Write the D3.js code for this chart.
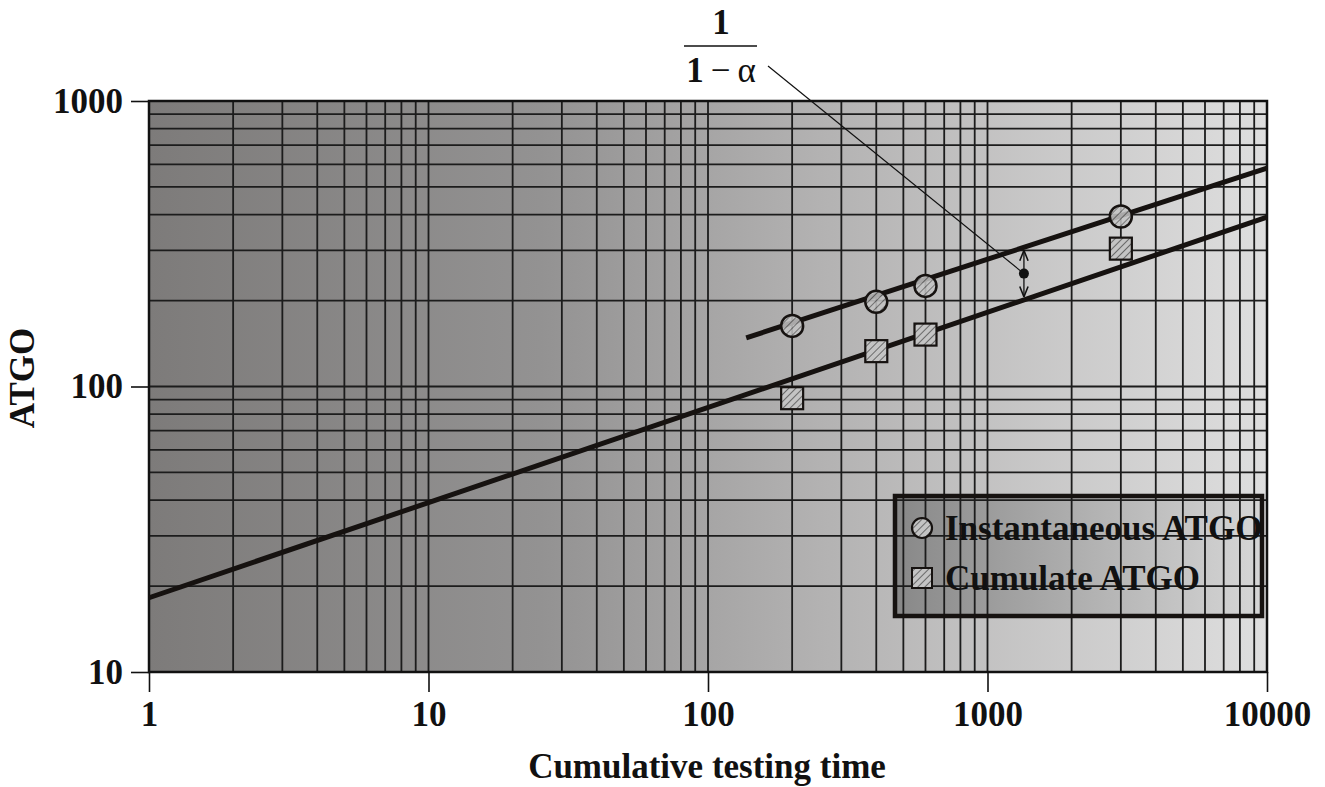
<!DOCTYPE html>
<html>
<head>
<meta charset="utf-8">
<script src="https://cdn.jsdelivr.net/npm/d3@7"></script>
<style>
  body { margin: 0; background: #fff; }
  text { font-family: "Liberation Serif", "Times New Roman", serif; font-weight: bold; fill: #111; }
</style>
</head>
<body>
<div id="chart"></div>
<script>
// size and margins
const width = 1325;
const height = 787;
const margin = { top: 101, right: 58, bottom: 115, left: 149 };
const innerwidth = width - margin.left - margin.right;
const innerheight = height - margin.top - margin.bottom;

// axis ticks
const xTicks = [1, 10, 100, 1000, 10000];
const yTicks = [10, 100, 1000];

// measured points
const instTime = [200, 400, 600, 3000];
const instATGO = [163, 198, 225, 394];
const cumTime = [200, 400, 600, 3000];
const cumATGO = [91, 133, 152, 304];

// fitted lines (end points)
const instFitTime = [137, 10000];
const instFitATGO = [148, 582];
const cumFitTime = [1, 10000];
const cumFitATGO = [18.2, 392];

// where the 1/(1-alpha) gap is marked
const gapTime = 1350;

const svg = d3.select("#chart")
    .append("svg")
    .attr("width", width)
    .attr("height", height);

const defs = svg.append("defs");

// background gradient, dark on the left, light on the right
const bg = defs.append("linearGradient").attr("id", "bg")
    .attr("x1", "0%").attr("x2", "100%").attr("y1", "0%").attr("y2", "0%");
bg.append("stop").attr("offset", "0%").attr("stop-color", "#7d7b7a");
bg.append("stop").attr("offset", "35%").attr("stop-color", "#939292");
bg.append("stop").attr("offset", "60%").attr("stop-color", "#b3b2b2");
bg.append("stop").attr("offset", "100%").attr("stop-color", "#dedede");

const legBg = defs.append("linearGradient").attr("id", "legbg")
    .attr("x1", "0%").attr("x2", "100%").attr("y1", "0%").attr("y2", "0%");
legBg.append("stop").attr("offset", "0%").attr("stop-color", "#888888");
legBg.append("stop").attr("offset", "100%").attr("stop-color", "#d6d6d6");

// hatch for the markers
const hatch = defs.append("pattern").attr("id", "hatch")
    .attr("patternUnits", "userSpaceOnUse")
    .attr("width", 5).attr("height", 5)
    .attr("patternTransform", "rotate(45)");
hatch.append("rect").attr("width", 5).attr("height", 5).attr("fill", "#c4c4c4");
hatch.append("line").attr("x1", 0).attr("y1", 0).attr("x2", 0).attr("y2", 5)
    .attr("stroke", "#6a6a6a").attr("stroke-width", 2);

// arrow heads
defs.append("marker").attr("id", "arr")
    .attr("viewBox", "0 0 10 10").attr("refX", 10).attr("refY", 5)
    .attr("markerWidth", 8).attr("markerHeight", 8).attr("orient", "auto-start-reverse")
    .append("path").attr("d", "M0,1 L10,5 L0,9").attr("fill", "none")
    .attr("stroke", "#111").attr("stroke-width", 1.5);

const g = svg.append("g")
    .attr("transform", "translate(" + margin.left + "," + margin.top + ")");

const x = d3.scaleLog().domain([1, 10000]).range([0, innerwidth]);
const y = d3.scaleLog().domain([10, 1000]).range([innerheight, 0]);

g.append("rect")
    .attr("width", innerwidth)
    .attr("height", innerheight)
    .attr("fill", "url(#bg)");

// legend background goes under the grid so lines show through it
const legX = 895 - margin.left;
const legY = 496 - margin.top;
const legW = 367;
const legH = 120;
g.append("rect")
    .attr("x", legX).attr("y", legY)
    .attr("width", legW).attr("height", legH)
    .attr("fill", "url(#legbg)");

// log grid
g.selectAll(".vgrid")
    .data(x.ticks())
    .enter()
    .append("line")
    .attr("x1", function (d) { return x(d); })
    .attr("x2", function (d) { return x(d); })
    .attr("y1", 0)
    .attr("y2", innerheight)
    .attr("stroke", "#1c1c1c")
    .attr("stroke-width", 1.8);

g.selectAll(".hgrid")
    .data(y.ticks())
    .enter()
    .append("line")
    .attr("x1", 0)
    .attr("x2", innerwidth)
    .attr("y1", function (d) { return y(d); })
    .attr("y2", function (d) { return y(d); })
    .attr("stroke", "#1c1c1c")
    .attr("stroke-width", 1.8);

g.append("rect")
    .attr("width", innerwidth)
    .attr("height", innerheight)
    .attr("fill", "none")
    .attr("stroke", "#111")
    .attr("stroke-width", 2.5);

// axes
const xAxis = g.append("g")
    .attr("transform", "translate(0," + innerheight + ")")
    .call(d3.axisBottom(x).tickValues(xTicks).tickSize(20).tickPadding(9).tickFormat(d3.format("d")));
const yAxis = g.append("g")
    .call(d3.axisLeft(y).tickValues(yTicks).tickSize(18).tickPadding(8).tickFormat(d3.format("d")));

[xAxis, yAxis].forEach(function (a) {
    a.select(".domain").remove();
    a.selectAll("line").attr("stroke", "#111").attr("stroke-width", 1.6);
    a.selectAll("text")
        .attr("fill", "#111")
        .style("font-family", "'Liberation Serif', serif")
        .style("font-weight", "bold")
        .style("font-size", "35px");
});

// axis titles
svg.append("text")
    .attr("x", 707)
    .attr("y", 778)
    .attr("text-anchor", "middle")
    .style("font-size", "35px")
    .text("Cumulative testing time");

svg.append("text")
    .attr("transform", "rotate(-90)")
    .attr("x", -378)
    .attr("y", 34)
    .attr("text-anchor", "middle")
    .style("font-size", "35px")
    .text("ATGO");

// fitted lines
const line = d3.line()
    .x(function (d) { return x(d[0]); })
    .y(function (d) { return y(d[1]); });

g.append("path")
    .datum(d3.zip(cumFitTime, cumFitATGO))
    .attr("d", line)
    .attr("fill", "none")
    .attr("stroke", "#161210")
    .attr("stroke-width", 5);

g.append("path")
    .datum(d3.zip(instFitTime, instFitATGO))
    .attr("d", line)
    .attr("fill", "none")
    .attr("stroke", "#161210")
    .attr("stroke-width", 5);

// gap between the two lines
function fitAt(t, ts, vs) {
    const k = Math.log(vs[1] / vs[0]) / Math.log(ts[1] / ts[0]);
    return vs[0] * Math.pow(t / ts[0], k);
}
const gapTop = fitAt(gapTime, instFitTime, instFitATGO);
const gapBot = fitAt(gapTime, cumFitTime, cumFitATGO);
const gapMid = Math.sqrt(gapTop * gapBot);

g.append("line")
    .attr("x1", x(gapTime)).attr("x2", x(gapTime))
    .attr("y1", y(gapTop) + 3).attr("y2", y(gapBot) - 3)
    .attr("stroke", "#111").attr("stroke-width", 1.3)
    .attr("marker-start", "url(#arr)")
    .attr("marker-end", "url(#arr)");

// leader line from the label to the gap
g.append("line")
    .attr("x1", 768 - margin.left).attr("y1", 66 - margin.top)
    .attr("x2", x(gapTime)).attr("y2", y(gapMid))
    .attr("stroke", "#111").attr("stroke-width", 1.2);

g.append("circle")
    .attr("cx", x(gapTime)).attr("cy", y(gapMid))
    .attr("r", 5).attr("fill", "#111");

// markers
g.selectAll(".cum")
    .data(d3.zip(cumTime, cumATGO))
    .enter()
    .append("rect")
    .attr("x", function (d) { return x(d[0]) - 11; })
    .attr("y", function (d) { return y(d[1]) - 11; })
    .attr("width", 22)
    .attr("height", 22)
    .attr("fill", "url(#hatch)")
    .attr("stroke", "#161210")
    .attr("stroke-width", 2.2);

g.selectAll(".inst")
    .data(d3.zip(instTime, instATGO))
    .enter()
    .append("circle")
    .attr("cx", function (d) { return x(d[0]); })
    .attr("cy", function (d) { return y(d[1]); })
    .attr("r", 11)
    .attr("fill", "url(#hatch)")
    .attr("fill-opacity", 0.85)
    .attr("stroke", "#161210")
    .attr("stroke-width", 2.5);

// 1/(1-alpha) label
svg.append("text")
    .attr("x", 721).attr("y", 34)
    .attr("text-anchor", "middle")
    .style("font-size", "35px")
    .text("1");
svg.append("line")
    .attr("x1", 684).attr("x2", 757)
    .attr("y1", 46).attr("y2", 46)
    .attr("stroke", "#111").attr("stroke-width", 1.6);
const den = svg.append("text")
    .attr("x", 721).attr("y", 82)
    .attr("text-anchor", "middle")
    .style("font-size", "35px");
den.append("tspan").text("1");
den.append("tspan").style("font-weight", "normal").text("\u2009\u2212\u2009\u03b1");

// legend
const legend = g.append("g").attr("transform", "translate(" + legX + "," + legY + ")");
legend.append("rect")
    .attr("width", legW).attr("height", legH)
    .attr("fill", "none")
    .attr("stroke", "#161210")
    .attr("stroke-width", 4.5);
legend.append("circle")
    .attr("cx", 27).attr("cy", 32).attr("r", 10)
    .attr("fill", "url(#hatch)")
    .attr("stroke", "#161210").attr("stroke-width", 2.2);
legend.append("text")
    .attr("x", 50).attr("y", 44)
    .style("font-size", "35px")
    .text("Instantaneous ATGO");
legend.append("rect")
    .attr("x", 17).attr("y", 72).attr("width", 20).attr("height", 20)
    .attr("fill", "url(#hatch)")
    .attr("stroke", "#161210").attr("stroke-width", 2);
legend.append("text")
    .attr("x", 50).attr("y", 94)
    .style("font-size", "35px")
    .text("Cumulate ATGO");
</script>
</body>
</html>
